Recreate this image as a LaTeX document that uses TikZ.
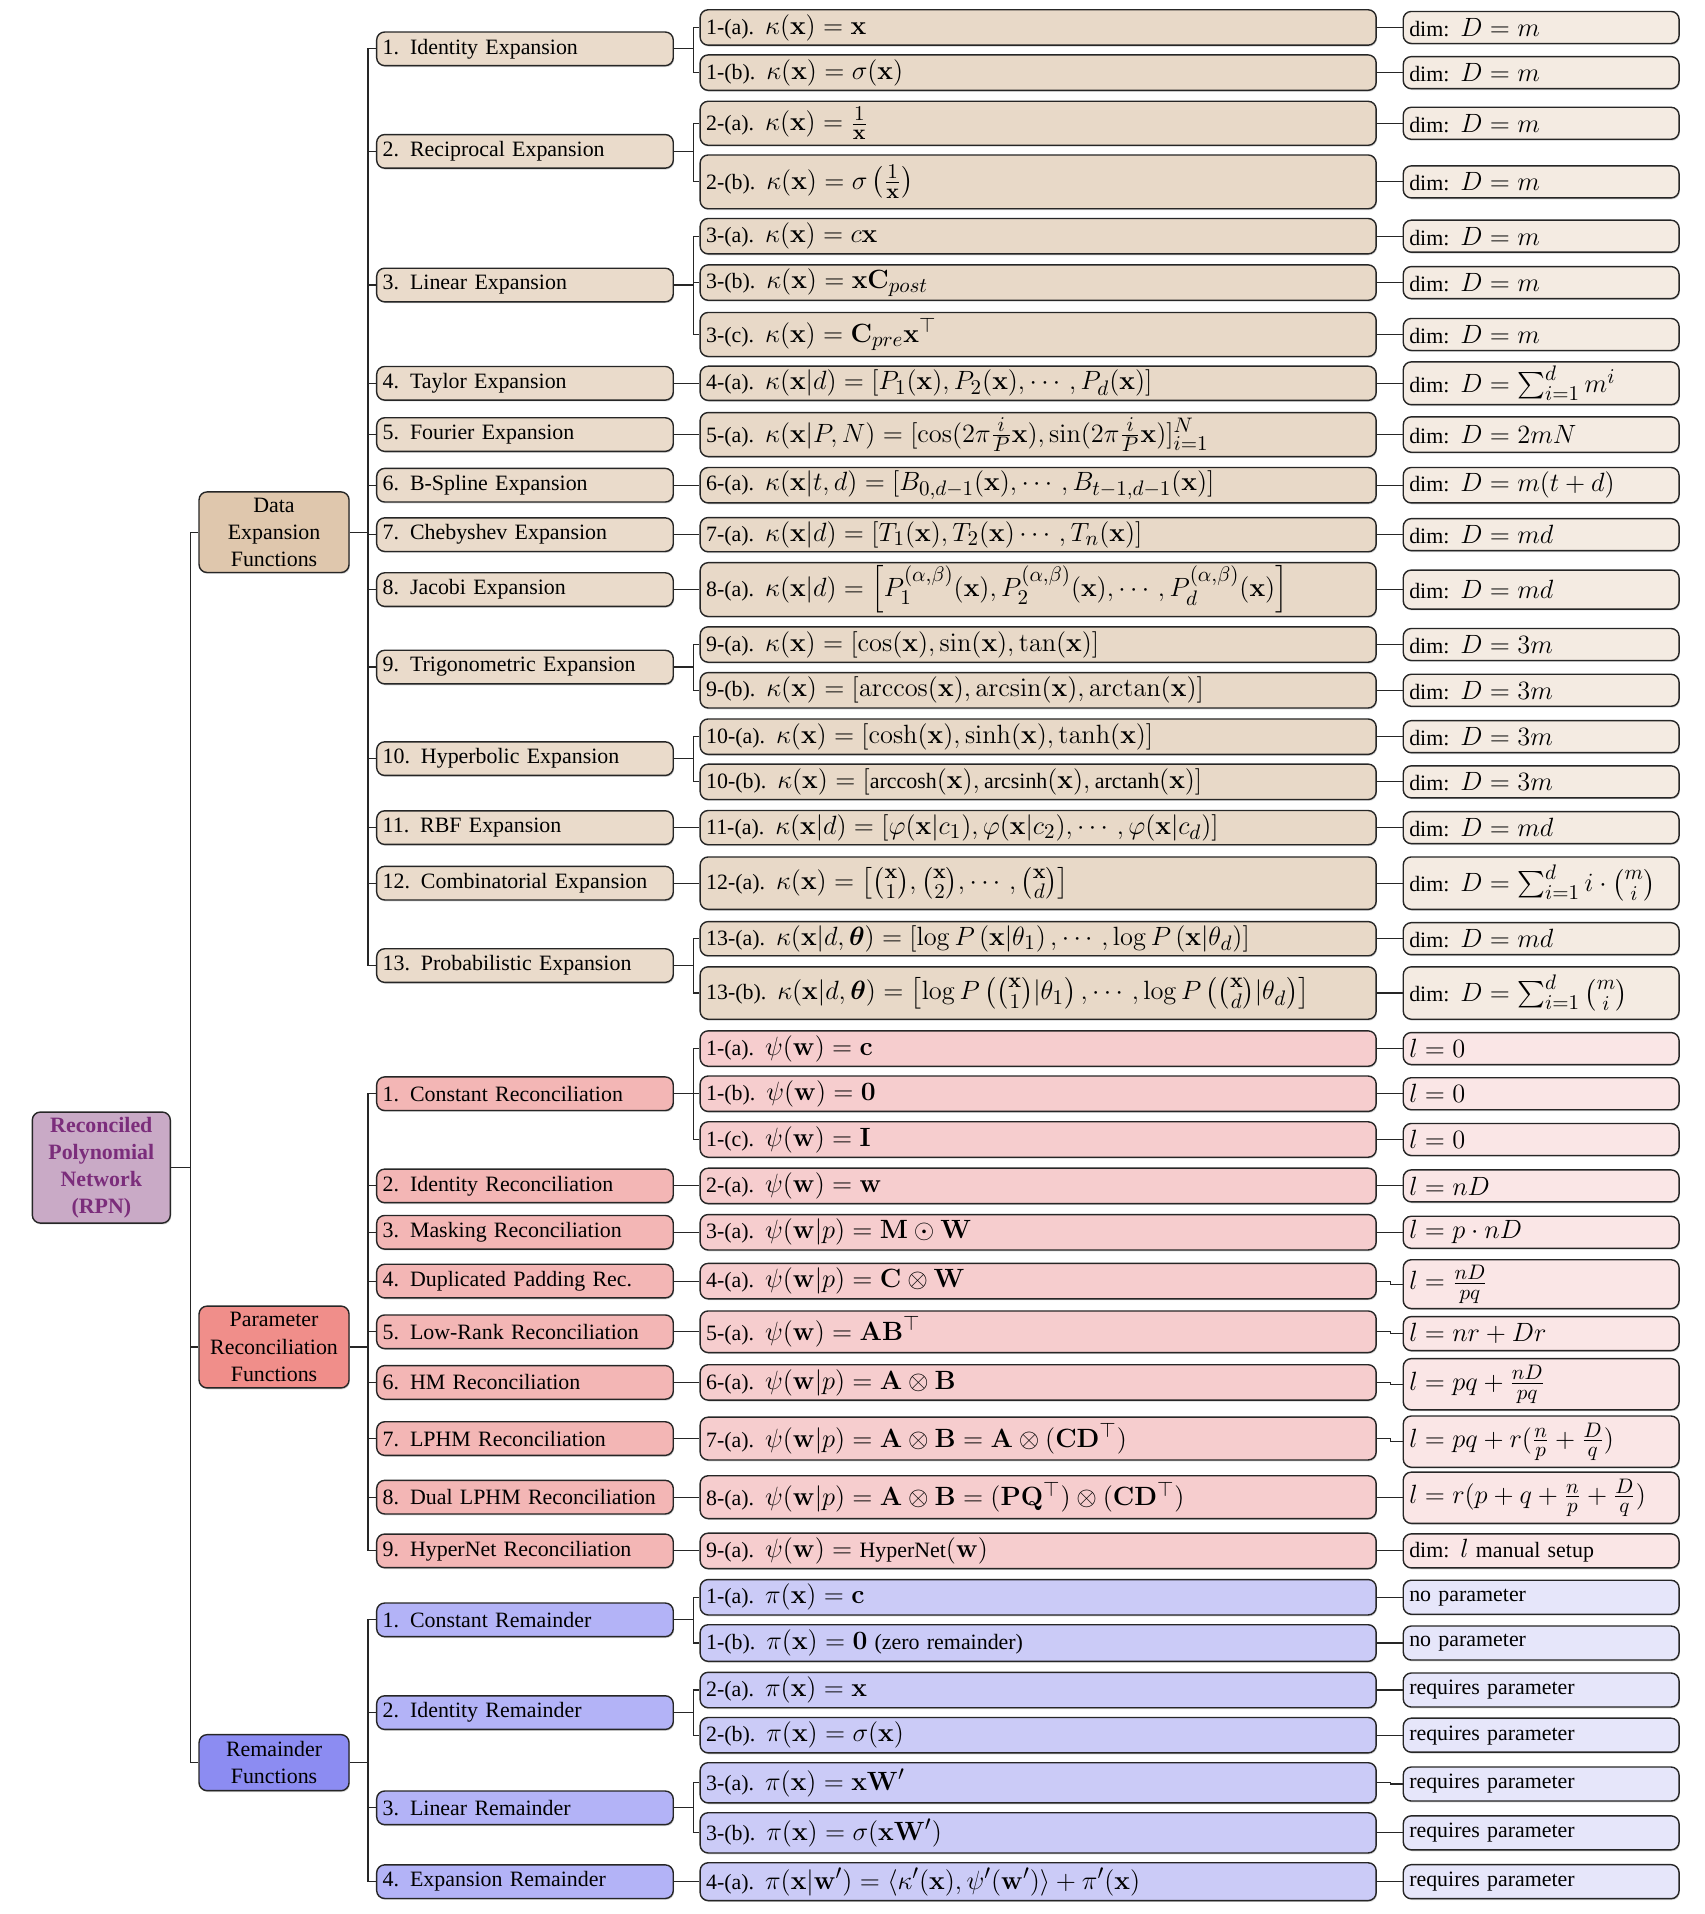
\documentclass[tikz,border=0pt,11pt]{standalone}
\usepackage{fix-cm}
\usepackage{amsmath,amssymb}
\usepackage[no-math]{fontspec}
\setmainfont{Liberation Serif}
\DeclareMathSizes{10.95}{13.2}{10.5}{8}
\usepackage{xcolor}
\usepackage{tikz}
\usetikzlibrary{shadows}

\definecolor{rpnfill}{HTML}{C9AAC6}
\definecolor{rpntext}{HTML}{7B2D7B}
\definecolor{dexpA}{HTML}{DFC7AD}
\definecolor{dexpB}{HTML}{EADBCB}
\definecolor{dexpC}{HTML}{E8D9C8}
\definecolor{dexpD}{HTML}{F4EBE2}
\definecolor{precA}{HTML}{F08E8A}
\definecolor{precB}{HTML}{F3B6B5}
\definecolor{precC}{HTML}{F6CDCE}
\definecolor{precD}{HTML}{FAE6E6}
\definecolor{remA}{HTML}{8C8CF2}
\definecolor{remB}{HTML}{B3B3F7}
\definecolor{remC}{HTML}{CBCBF7}
\definecolor{remD}{HTML}{E6E6FA}

\begin{document}
\begin{tikzpicture}[x=0.6103pt,y=-0.6103pt,
  fork/.style={draw=black!85,line width=0.6pt,to path={-- ++(#1,0) |- (\tikztotarget)}}]

\tikzstyle{box}=[draw=black!85,line width=0.7pt,rounded corners=4pt,inner ysep=1.5pt,
  drop shadow={shadow xshift=0.4pt,shadow yshift=-0.7pt,opacity=0.35}]
\tikzstyle{rootbox}=[box,fill=rpnfill,text=rpntext,font=\bfseries,text width=63pt,align=center,minimum height=55.5pt,inner xsep=3pt]
\tikzstyle{topbox}=[box,text width=70pt,align=center,inner xsep=2.5pt]
\tikzstyle{subbox}=[box,anchor=west,text width=142.3pt,align=left,inner xsep=3pt,minimum height=16.8pt]
\tikzstyle{leafbox}=[box,anchor=west,text width=332pt,align=left,inner xsep=3pt,minimum height=17.7pt]
\tikzstyle{dimbox}=[box,anchor=west,text width=131.9pt,align=left,inner xsep=3pt,minimum height=16pt]
\tikzstyle{dsub}=[subbox,fill=dexpB]
\tikzstyle{dleaf}=[leafbox,fill=dexpC]
\tikzstyle{ddim}=[dimbox,fill=dexpD]
\tikzstyle{psub}=[subbox,fill=precB]
\tikzstyle{pleaf}=[leafbox,fill=precC]
\tikzstyle{pdim}=[dimbox,fill=precD]
\tikzstyle{rsub}=[subbox,fill=remB]
\tikzstyle{rleaf}=[leafbox,fill=remC]
\tikzstyle{rdim}=[dimbox,fill=remD]

\useasboundingbox (0,0) rectangle (1396,1568);

% root and the three families
\node (rpn) [rootbox] at (83,956.5) {Reconciled\\Polynomial\\Network\\(RPN)};
\node (dexp) [topbox,fill=dexpA,minimum height=40.3pt] at (224.5,436) {Data\\Expansion\\Functions};
\node (prec) [topbox,fill=precA,minimum height=40.9pt] at (224.5,1103.5) {Parameter\\Reconciliation\\Functions};
\node (rem) [topbox,fill=remA,minimum height=28pt] at (224.5,1444) {Remainder\\Functions};

% data expansion functions
\node (d1) [dsub] at (308,40) {1.\enspace Identity Expansion};
\node (d2) [dsub] at (308,124) {2.\enspace Reciprocal Expansion};
\node (d3) [dsub] at (308,233.5) {3.\enspace Linear Expansion};
\node (d4) [dsub] at (308,314) {4.\enspace Taylor Expansion};
\node (d5) [dsub] at (308,356) {5.\enspace Fourier Expansion};
\node (d6) [dsub] at (308,397.5) {6.\enspace B-Spline Expansion};
\node (d7) [dsub] at (308,438) {7.\enspace Chebyshev Expansion};
\node (d8) [dsub] at (308,483) {8.\enspace Jacobi Expansion};
\node (d9) [dsub] at (308,546.5) {9.\enspace Trigonometric Expansion};
\node (d10) [dsub] at (308,621.5) {10.\enspace Hyperbolic Expansion};
\node (d11) [dsub] at (308,678) {11.\enspace RBF Expansion};
\node (d12) [dsub] at (308,723.5) {12.\enspace Combinatorial Expansion};
\node (d13) [dsub] at (308,791) {13.\enspace Probabilistic Expansion};

\node (d1a) [dleaf] at (573,22.5) {1-(a). $\kappa(\mathbf{x}) = \mathbf{x}$};
\node (d1b) [dleaf] at (573,59.5) {1-(b). $\kappa(\mathbf{x}) = \sigma(\mathbf{x})$};
\node (d2a) [dleaf,minimum height=22pt] at (573,101) {2-(a). $\kappa(\mathbf{x}) = \frac{1}{\mathbf{x}}$};
\node (d2b) [dleaf,minimum height=26.9pt] at (573,149) {2-(b). $\kappa(\mathbf{x}) = \sigma\left(\frac{1}{\mathbf{x}}\right)$};
\node (d3a) [dleaf] at (573,193.5) {3-(a). $\kappa(\mathbf{x}) = c\mathbf{x}$};
\node (d3b) [dleaf] at (573,231.5) {3-(b). $\kappa(\mathbf{x}) = \mathbf{x}\mathbf{C}_{post}$};
\node (d3c) [dleaf,minimum height=22pt] at (573,274) {3-(c). $\kappa(\mathbf{x}) = \mathbf{C}_{pre}\mathbf{x}^{\top}$};
\node (d4a) [dleaf,minimum height=17.1pt] at (573,314) {4-(a). $\kappa(\mathbf{x}|d) = [P_1(\mathbf{x}), P_2(\mathbf{x}), \cdots, P_d(\mathbf{x})]$};
\node (d5a) [dleaf,minimum height=22pt] at (573,356) {5-(a). $\kappa(\mathbf{x}|P,N) = [\cos(2\pi\frac{i}{P}\mathbf{x}), \sin(2\pi\frac{i}{P}\mathbf{x})]_{i=1}^{N}$};
\node (d6a) [dleaf] at (573,397.5) {6-(a). $\kappa(\mathbf{x}|t,d) = [B_{0,d-1}(\mathbf{x}), \cdots, B_{t-1,d-1}(\mathbf{x})]$};
\node (d7a) [dleaf,minimum height=17.1pt] at (573,438) {7-(a). $\kappa(\mathbf{x}|d) = [T_1(\mathbf{x}), T_2(\mathbf{x}) \cdots, T_n(\mathbf{x})]$};
\node (d8a) [dleaf,minimum height=26.9pt] at (573,483) {8-(a). $\kappa(\mathbf{x}|d) = \left[P_1^{(\alpha,\beta)}(\mathbf{x}), P_2^{(\alpha,\beta)}(\mathbf{x}), \cdots, P_d^{(\alpha,\beta)}(\mathbf{x})\right]$};
\node (d9a) [dleaf] at (573,528) {9-(a). $\kappa(\mathbf{x}) = [\cos(\mathbf{x}), \sin(\mathbf{x}), \tan(\mathbf{x})]$};
\node (d9b) [dleaf] at (573,565.5) {9-(b). $\kappa(\mathbf{x}) = [\arccos(\mathbf{x}), \arcsin(\mathbf{x}), \arctan(\mathbf{x})]$};
\node (d10a) [dleaf] at (573,603.5) {10-(a). $\kappa(\mathbf{x}) = [\cosh(\mathbf{x}), \sinh(\mathbf{x}), \tanh(\mathbf{x})]$};
\node (d10b) [dleaf] at (573,640.5) {10-(b). $\kappa(\mathbf{x}) = [\text{arccosh}(\mathbf{x}), \text{arcsinh}(\mathbf{x}), \text{arctanh}(\mathbf{x})]$};
\node (d11a) [dleaf,minimum height=17.1pt] at (573,678) {11-(a). $\kappa(\mathbf{x}|d) = [\varphi(\mathbf{x}|c_1), \varphi(\mathbf{x}|c_2), \cdots, \varphi(\mathbf{x}|c_d)]$};
\node (d12a) [dleaf,minimum height=26.2pt] at (573,723.5) {12-(a). $\kappa(\mathbf{x}) = \left[\binom{\mathbf{x}}{1}, \binom{\mathbf{x}}{2}, \cdots, \binom{\mathbf{x}}{d}\right]$};
\node (d13a) [dleaf,minimum height=17.1pt] at (573,769) {13-(a). $\kappa(\mathbf{x}|d,\boldsymbol{\theta}) = [\log P\left(\mathbf{x}|\theta_1\right), \cdots, \log P\left(\mathbf{x}|\theta_d\right)]$};
\node (d13b) [dleaf,minimum height=26.2pt] at (573,813.5) {13-(b). $\kappa(\mathbf{x}|d,\boldsymbol{\theta}) = \left[\log P\left(\binom{\mathbf{x}}{1}|\theta_1\right), \cdots, \log P\left(\binom{\mathbf{x}}{d}|\theta_d\right)\right]$};

\node (d1a-dim) [ddim] at (1149,22.5) {dim: $D = m$};
\node (d1b-dim) [ddim] at (1149,59.5) {dim: $D = m$};
\node (d2a-dim) [ddim] at (1149,101) {dim: $D = m$};
\node (d2b-dim) [ddim] at (1149,149) {dim: $D = m$};
\node (d3a-dim) [ddim] at (1149,193.5) {dim: $D = m$};
\node (d3b-dim) [ddim] at (1149,231.5) {dim: $D = m$};
\node (d3c-dim) [ddim] at (1149,274) {dim: $D = m$};
\node (d4a-dim) [ddim,minimum height=21.4pt] at (1149,314) {dim: $D = \sum_{i=1}^{d} m^i$};
\node (d5a-dim) [ddim,minimum height=17.7pt] at (1149,356) {dim: $D = 2mN$};
\node (d6a-dim) [ddim,minimum height=17.7pt] at (1149,397.5) {dim: $D = m(t+d)$};
\node (d7a-dim) [ddim] at (1149,438) {dim: $D = md$};
\node (d8a-dim) [ddim,minimum height=19.5pt] at (1149,483) {dim: $D = md$};
\node (d9a-dim) [ddim] at (1149,528) {dim: $D = 3m$};
\node (d9b-dim) [ddim] at (1149,565.5) {dim: $D = 3m$};
\node (d10a-dim) [ddim] at (1149,603.5) {dim: $D = 3m$};
\node (d10b-dim) [ddim] at (1149,640.5) {dim: $D = 3m$};
\node (d11a-dim) [ddim] at (1149,678) {dim: $D = md$};
\node (d12a-dim) [ddim,minimum height=26.2pt] at (1149,723.5) {dim: $D = \sum_{i=1}^{d} i\cdot\binom{m}{i}$};
\node (d13a-dim) [ddim] at (1149,769) {dim: $D = md$};
\node (d13b-dim) [ddim,minimum height=26.2pt] at (1149,813.5) {dim: $D = \sum_{i=1}^{d}\binom{m}{i}$};

% parameter reconciliation functions
\node (p1) [psub] at (308,896) {1.\enspace Constant Reconciliation};
\node (p2) [psub] at (308,971.5) {2.\enspace Identity Reconciliation};
\node (p3) [psub] at (308,1009.5) {3.\enspace Masking Reconciliation};
\node (p4) [psub] at (308,1049.5) {4.\enspace Duplicated Padding Rec.};
\node (p5) [psub] at (308,1091) {5.\enspace Low-Rank Reconciliation};
\node (p6) [psub] at (308,1132.5) {6.\enspace HM Reconciliation};
\node (p7) [psub] at (308,1178.5) {7.\enspace LPHM Reconciliation};
\node (p8) [psub] at (308,1226.5) {8.\enspace Dual LPHM Reconciliation};
\node (p9) [psub] at (308,1270.5) {9.\enspace HyperNet Reconciliation};

\node (p1a) [pleaf] at (573,859) {1-(a). $\psi(\mathbf{w}) = \mathbf{c}$};
\node (p1b) [pleaf] at (573,896) {1-(b). $\psi(\mathbf{w}) = \mathbf{0}$};
\node (p1c) [pleaf] at (573,933.5) {1-(c). $\psi(\mathbf{w}) = \mathbf{I}$};
\node (p2a) [pleaf] at (573,971.5) {2-(a). $\psi(\mathbf{w}) = \mathbf{w}$};
\node (p3a) [pleaf] at (573,1009.5) {3-(a). $\psi(\mathbf{w}|p) = \mathbf{M}\odot\mathbf{W}$};
\node (p4a) [pleaf] at (573,1049.5) {4-(a). $\psi(\mathbf{w}|p) = \mathbf{C}\otimes\mathbf{W}$};
\node (p5a) [pleaf,minimum height=20.8pt] at (573,1091) {5-(a). $\psi(\mathbf{w}) = \mathbf{A}\mathbf{B}^{\top}$};
\node (p6a) [pleaf] at (573,1132.5) {6-(a). $\psi(\mathbf{w}|p) = \mathbf{A}\otimes\mathbf{B}$};
\node (p7a) [pleaf,minimum height=21.4pt] at (573,1178.5) {7-(a). $\psi(\mathbf{w}|p) = \mathbf{A}\otimes\mathbf{B} = \mathbf{A}\otimes(\mathbf{C}\mathbf{D}^{\top})$};
\node (p8a) [pleaf,minimum height=21.4pt] at (573,1226.5) {8-(a). $\psi(\mathbf{w}|p) = \mathbf{A}\otimes\mathbf{B} = (\mathbf{P}\mathbf{Q}^{\top})\otimes(\mathbf{C}\mathbf{D}^{\top})$};
\node (p9a) [pleaf] at (573,1270.5) {9-(a). $\psi(\mathbf{w}) = \text{HyperNet}(\mathbf{w})$};

\node (p1a-dim) [pdim] at (1149,859) {$l = 0$};
\node (p1b-dim) [pdim] at (1149,896) {$l = 0$};
\node (p1c-dim) [pdim] at (1149,933.5) {$l = 0$};
\node (p2a-dim) [pdim] at (1149,971.5) {$l = nD$};
\node (p3a-dim) [pdim] at (1149,1009.5) {$l = p\cdot nD$};
\node (p4a-dim) [pdim,minimum height=24.4pt] at (1149,1052) {$l = \frac{nD}{pq}$};
\node (p5a-dim) [pdim,minimum height=17pt] at (1149,1092.5) {$l = nr + Dr$};
\node (p6a-dim) [pdim,minimum height=25.6pt] at (1149,1134) {$l = pq + \frac{nD}{pq}$};
\node (p7a-dim) [pdim,minimum height=25.6pt] at (1149,1181) {$l = pq + r(\frac{n}{p} + \frac{D}{q})$};
\node (p8a-dim) [pdim,minimum height=25.6pt] at (1149,1227) {$l = r(p + q + \frac{n}{p} + \frac{D}{q})$};
\node (p9a-dim) [pdim,minimum height=17pt] at (1149,1270.5) {dim: $l$ manual setup};

% remainder functions
\node (r1) [rsub] at (308,1327) {1.\enspace Constant Remainder};
\node (r2) [rsub] at (308,1403) {2.\enspace Identity Remainder};
\node (r3) [rsub] at (308,1481) {3.\enspace Linear Remainder};
\node (r4) [rsub] at (308,1541.5) {4.\enspace Expansion Remainder};

\node (r1a) [rleaf] at (573,1308.5) {1-(a). $\pi(\mathbf{x}) = \mathbf{c}$};
\node (r1b) [rleaf,minimum height=18.3pt] at (573,1346) {1-(b). $\pi(\mathbf{x}) = \mathbf{0}$ (zero remainder)};
\node (r2a) [rleaf] at (573,1384.5) {2-(a). $\pi(\mathbf{x}) = \mathbf{x}$};
\node (r2b) [rleaf] at (573,1421.5) {2-(b). $\pi(\mathbf{x}) = \sigma(\mathbf{x})$};
\node (r3a) [rleaf,minimum height=20.1pt] at (573,1460.5) {3-(a). $\pi(\mathbf{x}) = \mathbf{x}\mathbf{W}'$};
\node (r3b) [rleaf,minimum height=20.1pt] at (573,1501.5) {3-(b). $\pi(\mathbf{x}) = \sigma(\mathbf{x}\mathbf{W}')$};
\node (r4a) [rleaf,minimum height=18.9pt] at (573,1541.5) {4-(a). $\pi(\mathbf{x}|\mathbf{w}') = \langle\kappa'(\mathbf{x}), \psi'(\mathbf{w}')\rangle + \pi'(\mathbf{x})$};

\node (r1a-dim) [rdim,minimum height=17pt] at (1149,1308.5) {no parameter};
\node (r1b-dim) [rdim,minimum height=17pt] at (1149,1346) {no parameter};
\node (r2a-dim) [rdim,minimum height=17pt] at (1149,1384.5) {requires parameter};
\node (r2b-dim) [rdim,minimum height=17pt] at (1149,1421.5) {requires parameter};
\node (r3a-dim) [rdim,minimum height=17pt] at (1149,1461.5) {requires parameter};
\node (r3b-dim) [rdim,minimum height=17pt] at (1149,1501.5) {requires parameter};
\node (r4a-dim) [rdim,minimum height=17pt] at (1149,1541.5) {requires parameter};

% connectors
\draw[fork=16] (rpn.east) to (dexp.west) (rpn.east) to (prec.west) (rpn.east) to (rem.west);

\draw[fork=15] (dexp.east) to (d1.west) (dexp.east) to (d2.west) (dexp.east) to (d3.west)
  (dexp.east) to (d4.west) (dexp.east) to (d5.west) (dexp.east) to (d6.west)
  (dexp.east) to (d7.west) (dexp.east) to (d8.west) (dexp.east) to (d9.west)
  (dexp.east) to (d10.west) (dexp.east) to (d11.west) (dexp.east) to (d12.west)
  (dexp.east) to (d13.west);
\draw[fork=15] (prec.east) to (p1.west) (prec.east) to (p2.west) (prec.east) to (p3.west)
  (prec.east) to (p4.west) (prec.east) to (p5.west) (prec.east) to (p6.west)
  (prec.east) to (p7.west) (prec.east) to (p8.west) (prec.east) to (p9.west);
\draw[fork=15] (rem.east) to (r1.west) (rem.east) to (r2.west)
  (rem.east) to (r3.west) (rem.east) to (r4.west);

\draw[fork=16] (d1.east) to (d1a.west) (d1.east) to (d1b.west);
\draw[fork=16] (d2.east) to (d2a.west) (d2.east) to (d2b.west);
\draw[fork=16] (d3.east) to (d3a.west) (d3.east) to (d3b.west) (d3.east) to (d3c.west);
\draw[fork=16] (d4.east) to (d4a.west);
\draw[fork=16] (d5.east) to (d5a.west);
\draw[fork=16] (d6.east) to (d6a.west);
\draw[fork=16] (d7.east) to (d7a.west);
\draw[fork=16] (d8.east) to (d8a.west);
\draw[fork=16] (d9.east) to (d9a.west) (d9.east) to (d9b.west);
\draw[fork=16] (d10.east) to (d10a.west) (d10.east) to (d10b.west);
\draw[fork=16] (d11.east) to (d11a.west);
\draw[fork=16] (d12.east) to (d12a.west);
\draw[fork=16] (d13.east) to (d13a.west) (d13.east) to (d13b.west);

\draw[fork=16] (p1.east) to (p1a.west) (p1.east) to (p1b.west) (p1.east) to (p1c.west);
\draw[fork=16] (p2.east) to (p2a.west);
\draw[fork=16] (p3.east) to (p3a.west);
\draw[fork=16] (p4.east) to (p4a.west);
\draw[fork=16] (p5.east) to (p5a.west);
\draw[fork=16] (p6.east) to (p6a.west);
\draw[fork=16] (p7.east) to (p7a.west);
\draw[fork=16] (p8.east) to (p8a.west);
\draw[fork=16] (p9.east) to (p9a.west);

\draw[fork=16] (r1.east) to (r1a.west) (r1.east) to (r1b.west);
\draw[fork=16] (r2.east) to (r2a.west) (r2.east) to (r2b.west);
\draw[fork=16] (r3.east) to (r3a.west) (r3.east) to (r3b.west);
\draw[fork=16] (r4.east) to (r4a.west);

% leaf to dimension boxes
\foreach \n in {d1a,d1b,d2a,d2b,d3a,d3b,d3c,d4a,d5a,d6a,d7a,d8a,d9a,d9b,d10a,d10b,d11a,d12a,d13a,d13b,
  p1a,p1b,p1c,p2a,p3a,p4a,p5a,p6a,p7a,p8a,p9a,r1a,r1b,r2a,r2b,r3a,r3b,r4a}
  \draw[fork=11] (\n.east) to (\n-dim.west);

\end{tikzpicture}
\end{document}
